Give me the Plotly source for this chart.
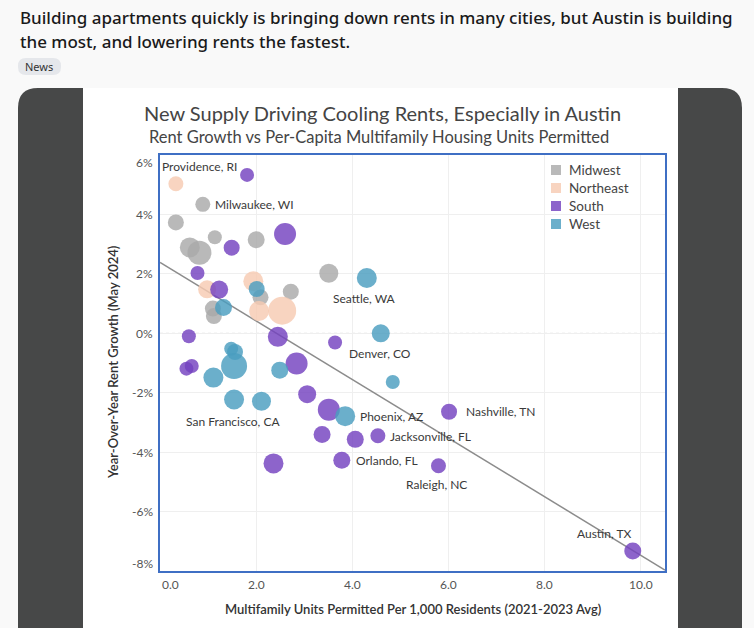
import plotly.graph_objects as go

# ---------------- data ----------------
regions = ["Midwest", "Northeast", "South", "West"]

midwest_x = [0.89, 0.33, 1.14, 2.00, 0.62, 0.82, 3.51, 2.09, 2.72, 1.10, 1.12]
midwest_y = [4.34, 3.73, 3.23, 3.15, 2.89, 2.71, 2.02, 1.21, 1.40, 0.83, 0.58]
midwest_s = [15, 16, 14, 17, 20, 24, 19, 16, 16, 16, 16]

northeast_x = [0.33, 1.94, 0.98, 2.06, 2.54]
northeast_y = [5.03, 1.75, 1.48, 0.75, 0.76]
northeast_s = [15, 20, 18, 20, 28]

south_x = [1.81, 2.60, 1.49, 0.78, 1.23, 0.60, 2.45, 3.64, 0.55, 0.66, 2.84,
           3.06, 3.51, 3.37, 4.06, 4.53, 2.36, 3.78, 6.01, 5.79, 9.83]
south_y = [5.33, 3.34, 2.88, 2.03, 1.47, -0.10, -0.12, -0.31, -1.19, -1.10, -1.02,
           -2.05, -2.57, -3.41, -3.57, -3.45, -4.38, -4.27, -2.64, -4.46, -7.33]
south_s = [14, 22, 16, 14, 18, 14, 20, 14, 14, 14, 22,
           18, 22, 17, 17, 15, 20, 17, 16, 15, 17]

west_x = [2.01, 1.32, 1.48, 1.56, 1.54, 1.11, 2.49, 1.54, 2.11, 3.85, 4.30, 4.59, 4.84]
west_y = [1.49, 0.87, -0.52, -0.63, -1.10, -1.49, -1.24, -2.23, -2.29, -2.79, 1.86, 0.00, -1.64]
west_s = [16, 17, 14, 16, 26, 20, 17, 20, 19, 20, 20, 18, 14]

# labelled cities: (name, region, index in that region's arrays)
labels = [
    ("Providence, RI", "Northeast", 0),
    ("Milwaukee, WI", "Midwest", 0),
    ("Seattle, WA", "West", 10),
    ("Denver, CO", "West", 11),
    ("San Francisco, CA", "West", 7),
    ("Phoenix, AZ", "West", 9),
    ("Jacksonville, FL", "South", 15),
    ("Orlando, FL", "South", 17),
    ("Nashville, TN", "South", 18),
    ("Raleigh, NC", "South", 19),
    ("Austin, TX", "South", 20),
]

trend_x = [0.0, 10.5]
trend_y = [2.39, -7.97]

x_ticks = [0, 2, 4, 6, 8, 10]
x_ticktext = ["0.0", "2.0", "4.0", "6.0", "8.0", "10.0"]
y_ticks = [-8, -6, -4, -2, 0, 2, 4, 6]
y_ticktext = ["-8%", "-6%", "-4%", "-2%", "0%", "2%", "4%", "6%"]

title = "New Supply Driving Cooling Rents, Especially in Austin"
subtitle = "Rent Growth vs Per-Capita Multifamily Housing Units Permitted"
header1 = "Building apartments quickly is bringing down rents in many cities, but Austin is building"
header2 = "the most, and lowering rents the fastest."

# ---------------- styling ----------------
W, H = 754, 628
L, R, T, B = 160, 665, 155, 571

def px_x(p):
    return (p - L) / (R - L)

def px_y(p):
    return (B - p) / (B - T)

colors = {
    "Midwest": "#a9a9a9",
    "Northeast": "#f7cbb2",
    "South": "#7442bf",
    "West": "#4b9dc0",
}
series = {
    "Midwest": (midwest_x, midwest_y, midwest_s),
    "Northeast": (northeast_x, northeast_y, northeast_s),
    "South": (south_x, south_y, south_s),
    "West": (west_x, west_y, west_s),
}
OPACITY = 0.82

CHART_FONT = "Lato"
HEAD_FONT = "Noto Sans"

fig = go.Figure()

# trend line
fig.add_trace(go.Scatter(x=trend_x, y=trend_y, mode="lines",
                         line=dict(color="#8c8c8c", width=1.5),
                         showlegend=False, hoverinfo="skip"))

for reg in regions:
    xs, ys, ss = series[reg]
    fig.add_trace(go.Scatter(
        x=xs, y=ys, mode="markers", name=reg, showlegend=False,
        marker=dict(color=colors[reg], size=ss, sizemode="diameter",
                    opacity=OPACITY, line=dict(width=0)),
    ))

# legend (Tableau-style square swatches, drawn as shapes + text)
for i, reg in enumerate(regions):
    cy = 170 + 18 * i
    fig.add_shape(type="rect", xref="paper", yref="paper",
                  x0=px_x(551), x1=px_x(561), y0=px_y(cy + 5), y1=px_y(cy - 5),
                  fillcolor=colors[reg], opacity=OPACITY, line=dict(width=0))
    fig.add_annotation(xref="paper", yref="paper", x=px_x(567), y=px_y(cy),
                       text=reg, showarrow=False, xanchor="left", yanchor="middle",
                       font=dict(family=CHART_FONT, size=13.5, color="#444444"))

# city labels
label_style = {
    "Providence, RI": dict(xanchor="left", yanchor="middle", xshift=-16, yshift=17),
    "Milwaukee, WI": dict(xanchor="left", yanchor="middle", xshift=10, yshift=0),
    "Seattle, WA": dict(xanchor="center", yanchor="middle", xshift=-2, yshift=-20),
    "Denver, CO": dict(xanchor="center", yanchor="middle", xshift=-1, yshift=-20),
    "San Francisco, CA": dict(xanchor="center", yanchor="middle", xshift=-1, yshift=-22),
    "Phoenix, AZ": dict(xanchor="left", yanchor="middle", xshift=13, yshift=0),
    "Jacksonville, FL": dict(xanchor="left", yanchor="middle", xshift=10, yshift=-1),
    "Orlando, FL": dict(xanchor="left", yanchor="middle", xshift=12, yshift=0),
    "Nashville, TN": dict(xanchor="left", yanchor="middle", xshift=15, yshift=0),
    "Raleigh, NC": dict(xanchor="center", yanchor="middle", xshift=-2, yshift=-19),
    "Austin, TX": dict(xanchor="right", yanchor="middle", xshift=0, yshift=18),
}
for name, reg, idx in labels:
    xs, ys, _ = series[reg]
    fig.add_annotation(x=xs[idx], y=ys[idx], text=name, showarrow=False,
                       font=dict(family=CHART_FONT, size=12, color="#3a3a3a"),
                       **label_style[name])

# tick labels (Tableau keeps end labels inside the pane)
tick_font = dict(family=CHART_FONT, size=12, color="#555555")
for v, t in zip(y_ticks, y_ticktext):
    anchor = "middle"
    if v == max(y_ticks):
        anchor = "top"
    elif v == min(y_ticks):
        anchor = "bottom"
    fig.add_annotation(xref="paper", yref="y", x=0, y=v, text=t, showarrow=False,
                       xanchor="right", yanchor=anchor, xshift=-5,
                       yshift=(2 if anchor == "top" else (-2 if anchor == "bottom" else 0)),
                       font=tick_font)
for v, t in zip(x_ticks, x_ticktext):
    fig.add_annotation(xref="x", yref="paper", x=v, y=0, text=t, showarrow=False,
                       xanchor=("left" if v == min(x_ticks) else "center"),
                       yanchor="top", yshift=-4, font=tick_font)

# titles & header text
fig.add_annotation(xref="paper", yref="paper", x=px_x(382), y=px_y(113),
                   text=title, showarrow=False, xanchor="center", yanchor="middle",
                   font=dict(family=CHART_FONT, size=20, color="#444444"))
fig.add_annotation(xref="paper", yref="paper", x=px_x(379), y=px_y(137),
                   text=subtitle, showarrow=False, xanchor="center", yanchor="middle",
                   font=dict(family=CHART_FONT, size=16.5, color="#444444"))
fig.add_annotation(xref="paper", yref="paper", x=px_x(113), y=px_y(363),
                   text="Year-Over-Year Rent Growth (May 2024)", textangle=-90,
                   showarrow=False, xanchor="center", yanchor="middle",
                   font=dict(family=CHART_FONT, size=13, color="#333333", weight=600))
fig.add_annotation(xref="paper", yref="paper", x=0.5, y=px_y(609),
                   text="Multifamily Units Permitted Per 1,000 Residents (2021-2023 Avg)",
                   showarrow=False, xanchor="center", yanchor="middle",
                   font=dict(family=CHART_FONT, size=13, color="#333333", weight=600))

fig.add_annotation(xref="paper", yref="paper", x=px_x(18), y=px_y(17),
                   text=header1, showarrow=False, xanchor="left", yanchor="middle",
                   font=dict(family=HEAD_FONT, size=17, color="#1a1a1b", weight=500))
fig.add_annotation(xref="paper", yref="paper", x=px_x(18), y=px_y(42),
                   text=header2, showarrow=False, xanchor="left", yanchor="middle",
                   font=dict(family=HEAD_FONT, size=17, color="#1a1a1b", weight=500))
fig.add_annotation(xref="paper", yref="paper", x=px_x(39), y=px_y(66),
                   text="News", showarrow=False, xanchor="center", yanchor="middle",
                   font=dict(family=HEAD_FONT, size=11, color="#333333"))

# background shapes
def rounded_path(x0, y0, x1, y1, r, bottom_round=False):
    X = px_x
    Y = px_y
    p = f"M {X(x0)},{Y(y1 - (r if bottom_round else 0))} "
    p += f"L {X(x0)},{Y(y0 + r)} Q {X(x0)},{Y(y0)} {X(x0 + r)},{Y(y0)} "
    p += f"L {X(x1 - r)},{Y(y0)} Q {X(x1)},{Y(y0)} {X(x1)},{Y(y0 + r)} "
    if bottom_round:
        p += f"L {X(x1)},{Y(y1 - r)} Q {X(x1)},{Y(y1)} {X(x1 - r)},{Y(y1)} "
        p += f"L {X(x0 + r)},{Y(y1)} Q {X(x0)},{Y(y1)} {X(x0)},{Y(y1 - r)} Z"
    else:
        p += f"L {X(x1)},{Y(y1)} Z"
    return p

fig.add_shape(type="path", xref="paper", yref="paper", layer="below",
              path=rounded_path(18, 88, 742, 660, 20),
              fillcolor="#474848", line=dict(width=0))
fig.add_shape(type="rect", xref="paper", yref="paper", layer="below",
              x0=px_x(83), x1=px_x(678), y0=px_y(660), y1=px_y(88),
              fillcolor="#ffffff", line=dict(width=0))
fig.add_shape(type="path", xref="paper", yref="paper", layer="below",
              path=rounded_path(18, 58, 61, 75, 8, bottom_round=True),
              fillcolor="#e5e7eb", line=dict(width=0))
# dashed zero line
fig.add_shape(type="line", xref="paper", yref="y", layer="below",
              x0=0, x1=1, y0=0, y1=0,
              line=dict(color="#d9d9d9", width=1, dash="dot"))

fig.update_layout(
    width=W, height=H,
    margin=dict(l=L, r=W - R, t=T, b=H - B, pad=0),
    paper_bgcolor="#f9f9f9",
    plot_bgcolor="#ffffff",
    font=dict(family=CHART_FONT, color="#555555", size=12),
    showlegend=False,
    xaxis=dict(range=[0, 10.5], tickvals=x_ticks, showticklabels=False,
               showgrid=True, gridcolor="#efefef", zeroline=False,
               showline=True, linecolor="#3f6fc4", linewidth=2, mirror=True,
               ticks=""),
    yaxis=dict(range=[-8, 6], tickvals=y_ticks, showticklabels=False,
               showgrid=True, gridcolor="#efefef", zeroline=False,
               showline=True, linecolor="#3f6fc4", linewidth=2, mirror=True,
               ticks=""),
)

fig.write_html("out.html")
